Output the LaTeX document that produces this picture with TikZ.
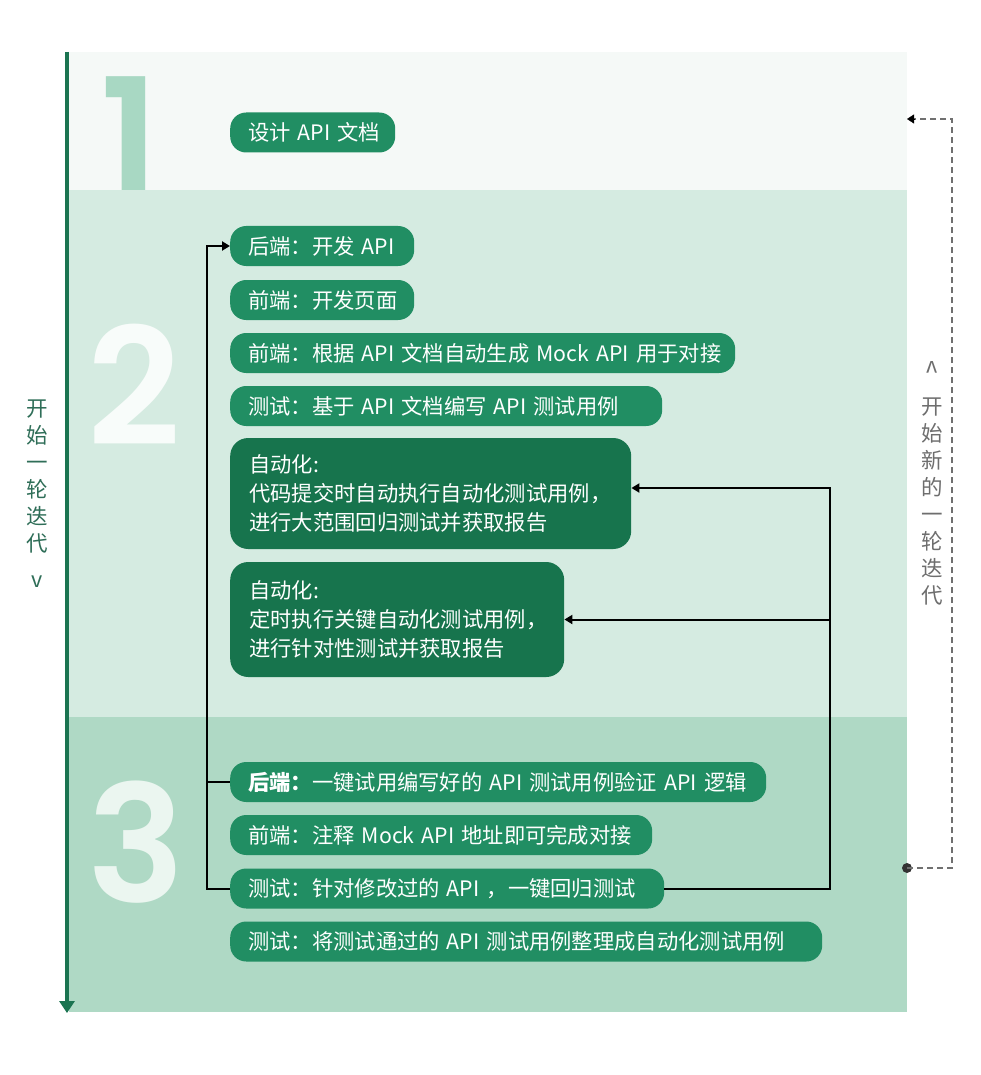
\documentclass[tikz,border=0pt]{standalone}
\usepackage{fontspec}
\setmainfont{Noto Sans CJK SC}
\newfontfamily\numfont{Poppins}[UprightFont={* SemiBold}]
\usetikzlibrary{arrows.meta}
\definecolor{bandA}{HTML}{F5F9F7}
\definecolor{bandB}{HTML}{D5EBE1}
\definecolor{bandC}{HTML}{AFD9C5}
\definecolor{pillc}{HTML}{218E63}
\definecolor{darkc}{HTML}{17744D}
\definecolor{linec}{HTML}{1B7451}
\definecolor{numA}{HTML}{A8D8C3}
\definecolor{numB}{HTML}{F8FCFA}
\definecolor{numC}{HTML}{EBF6F0}
\definecolor{lefttxt}{HTML}{2F6E58}
\definecolor{righttxt}{HTML}{6E6E6E}
\definecolor{dashc}{HTML}{707070}
\begin{document}
\begin{tikzpicture}[x=1pt,y=-1pt,
  pill/.style={anchor=west, fill=pillc, text=white, rounded corners=16pt,
    minimum height=40pt, inner xsep=18pt, inner ysep=0pt, align=left,
    font=\fontsize{21.3}{29}\selectfont},
  darkbox/.style={pill, fill=darkc, rounded corners=18pt, inner xsep=19pt},
  bignum/.style={anchor=base, inner sep=0pt, font=\numfont\fontsize{163}{163}\selectfont},
  conn/.style={draw=black, line width=2pt},
  tipB/.style={-{Triangle[length=8pt,width=9pt]}},
  vtext/.style={align=center, inner sep=0pt, font=\fontsize{21.5}{27}\selectfont}
  ]
\fill[white] (0,0) rectangle (980,1075);
% bands and digits
\fill[bandA] (69,52) rectangle (907,190);
\node[bignum, text=numA] (d1) at (130,196) {1};
\fill[bandB] (69,190) rectangle (907,717);
\node[bignum, text=numB] (d2) at (134,445) {2};
\fill[bandC] (69,717) rectangle (907,1012);
\node[bignum, text=numC] (d3) at (136,902) {3};
% main left arrow
\coordinate (ltop) at (67,52);
\coordinate (lbot) at (67,1013);
\draw[linec, line width=4pt, -{Triangle[length=12pt,width=15pt]}] (ltop) -- (lbot);
% left text
\node[vtext, text=lefttxt] (lt) at (37,477) {开\\始\\一\\轮\\迭\\代};
\node[vtext, text=lefttxt] (lv) at (37,582) {v};
% right text
\node[vtext, text=righttxt] (rc) at (932,367) {\scalebox{1}[-1]{v}};
\node[vtext, text=righttxt] (rt) at (932,502) {开\\始\\新\\的\\一\\轮\\迭\\代};
% boxes
\node[pill, text width=129pt] (n1) at (230,132.5) {\mbox{设计 API 文档}};
\node[pill, text width=148pt] (n2a) at (230,246) {\mbox{后端：开发 API}};
\node[pill, text width=148pt] (n2b) at (230,300) {\mbox{前端：开发页面}};
\node[pill, text width=469pt] (n2c) at (230,353) {\mbox{前端：根据 API 文档自动生成 Mock API 用于对接}};
\node[pill, text width=396pt] (n2d) at (230,406) {\mbox{测试：基于 API 文档编写 API 测试用例}};
\node[darkbox, text width=363pt, minimum height=111pt] (n2e) at (230,493.5)
  {自动化:\\代码提交时自动执行自动化测试用例，\\进行大范围回归测试并获取报告};
\node[darkbox, text width=296pt, minimum height=115pt] (n2f) at (230,619.5)
  {自动化:\\定时执行关键自动化测试用例，\\进行针对性测试并获取报告};
\node[pill, text width=500pt] (n3a) at (230,782) {\mbox{{\bfseries 后端：}一键试用编写好的 API 测试用例验证 API 逻辑}};
\node[pill, text width=386pt] (n3b) at (230,835) {\mbox{前端：注释 Mock API 地址即可完成对接}};
\node[pill, text width=398pt] (n3c) at (230,888.5) {\mbox{测试：针对修改过的 API ，一键回归测试}};
\node[pill, text width=556pt] (n3d) at (230,941.5) {\mbox{测试：将测试通过的 API 测试用例整理成自动化测试用例}};
% connectors
\coordinate (lx) at (207,0);
\coordinate (rx) at (830,0);
\draw[conn, tipB] (n3c.west) -- (n3c.west -| lx) |- (n2a.west);
\draw[conn] (n3a.west -| lx) -- (n3a.west);
\draw[conn, tipB] (n3c.east) -- (n3c.east -| rx) |- ([yshift=5.5pt]n2e.east);
\draw[conn, tipB] (n2f.east -| rx) -- (n2f.east);
% dashed loop
\node[circle, fill=black!80, inner sep=0pt, minimum size=10pt] (dot) at (907,868) {};
\coordinate (dtop) at (907,119);
\coordinate (dx) at (952,0);
\draw[dashc, line width=1.6pt, dash pattern=on 6pt off 4pt] (dot.center) -- (dot.center -| dx) |- ([xshift=7pt]dtop);
\draw[black, -{Triangle[length=7pt,width=9pt]}] ([xshift=7pt]dtop) -- (dtop);
\end{tikzpicture}
\end{document}
